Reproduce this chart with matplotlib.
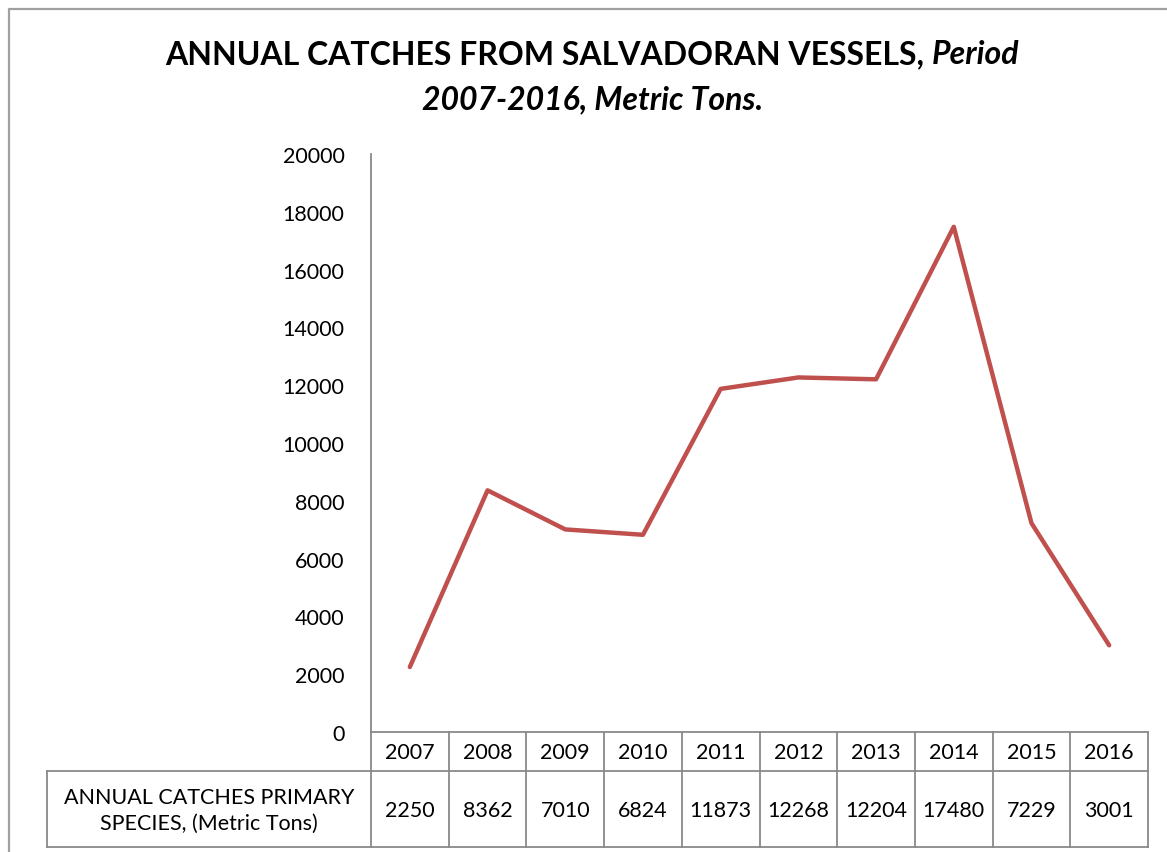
import matplotlib.pyplot as plt
from matplotlib.lines import Line2D

years = ["2007", "2008", "2009", "2010", "2011", "2012", "2013", "2014", "2015", "2016"]
catches = [2250, 8362, 7010, 6824, 11873, 12268, 12204, 17480, 7229, 3001]
row_label = "ANNUAL CATCHES PRIMARY\nSPECIES, (Metric Tons)"
yticks = list(range(0, 20001, 2000))
title_main = "ANNUAL CATCHES FROM SALVADORAN VESSELS, "
title_ital = "Period"
title_line2 = "2007-2016, Metric Tons."

W, H = 1167, 853
FONT = "Lato"
GRID = "#898989"
FS = 15.5
TFS = 23


def fx(px):
    return px / W


def fy(py):
    return 1 - py / H


fig = plt.figure(figsize=(W / 100, H / 100), dpi=100)

# outer chart border
fig.add_artist(Line2D([fx(9), fx(9), fx(1170)], [fy(860), fy(10), fy(10)],
                      color="#A0A0A0", lw=1.6, transform=fig.transFigure))

# title: bold part + bold italic part, centred together
t1 = fig.text(0, fy(55), title_main, ha="left", va="center",
              fontsize=TFS, fontweight="bold", family=FONT)
t2 = fig.text(0, fy(55), title_ital, ha="left", va="center",
              fontsize=TFS, fontweight="bold", style="italic", family=FONT)
r = fig.canvas.get_renderer()
w1 = t1.get_window_extent(r).width
w2 = t2.get_window_extent(r).width
x0 = 592 - (w1 + w2) / 2
t1.set_x(fx(x0))
t2.set_x(fx(x0 + w1))
fig.text(fx(593), fy(100), title_line2, ha="center", va="center",
         fontsize=TFS, fontweight="bold", style="italic", family=FONT)

left, right, top, bottom = 371, 1148, 155, 733
ax = fig.add_axes([fx(left), fy(bottom), fx(right - left), (bottom - top) / H])
x = list(range(len(years)))
ax.plot(x, catches, color="#C0504D", lw=3.2, solid_joinstyle="round",
        solid_capstyle="round")
ax.set_xlim(-0.5, len(years) - 0.5)
ax.set_ylim(0, 20000)
ax.set_yticks(yticks)
ax.set_yticklabels([str(v) for v in yticks], family=FONT, fontsize=FS)
ax.tick_params(axis="y", length=0, pad=19)
ax.set_xticks([])
for s in ["top", "right"]:
    ax.spines[s].set_visible(False)
ax.spines["left"].set_color(GRID)
ax.spines["left"].set_linewidth(1.3)
ax.spines["bottom"].set_color(GRID)
ax.spines["bottom"].set_linewidth(1.3)
ax.patch.set_visible(False)

# data table under the plot
row1, row2, row3 = 733, 772, 848
lab_left = 47
colw = (right - left) / len(years)
lines = [
    ([right, right], [row1, row3]),
    ([lab_left, right], [row2, row2]),
    ([lab_left, right], [row3, row3]),
    ([lab_left, lab_left], [row2, row3]),
]
for i in range(len(years)):
    cx = left + i * colw
    lines.append(([cx, cx], [row1, row3]))
for xs, ys in lines:
    fig.add_artist(Line2D([fx(v) for v in xs], [fy(v) for v in ys],
                          color=GRID, lw=1.3, transform=fig.transFigure))

for i, (yr, val) in enumerate(zip(years, catches)):
    cx = left + (i + 0.5) * colw
    fig.text(fx(cx), fy((row1 + row2) / 2 + 1), yr, ha="center", va="center",
             fontsize=FS, family=FONT)
    fig.text(fx(cx), fy((row2 + row3) / 2 + 1), str(val), ha="center", va="center",
             fontsize=FS, family=FONT)
fig.text(fx((lab_left + left) / 2), fy((row2 + row3) / 2 + 1), row_label,
         ha="center", va="center", fontsize=FS, family=FONT, linespacing=1.4)

fig.savefig("out.png", dpi=100)
